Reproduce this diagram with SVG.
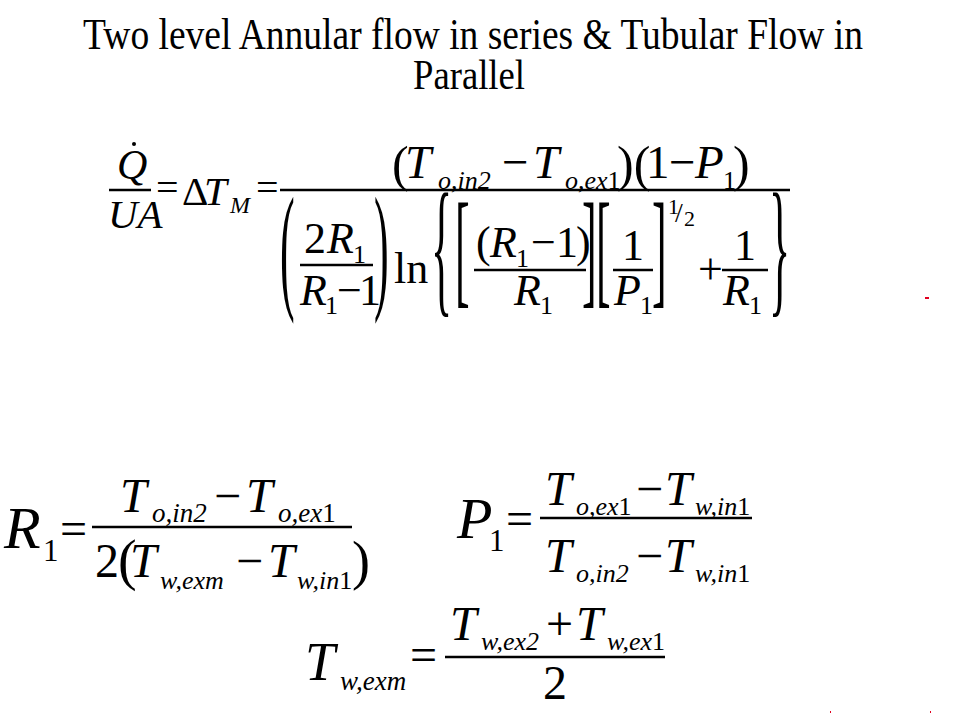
<svg xmlns="http://www.w3.org/2000/svg" width="960" height="720" viewBox="0 0 960 720" font-family="Liberation Serif, Times New Roman, serif">
<style>
text{font-family:'Liberation Serif','Times New Roman',serif;fill:#000}
.i{font-style:italic}
.m{font-size:44px}
.n{font-size:47px}
.s{font-size:26px}
.L{font-size:48px}
.ls{font-size:27px}
.bar{stroke:#000;stroke-width:2.5}
</style>
<rect width="960" height="720" fill="#fff"/>
<g id="title">
<text x="0" y="0" font-size="44" transform="matrix(0.835 0 0 1 83 49)" textLength="934" lengthAdjust="spacingAndGlyphs">Two level Annular flow in series  &amp; Tubular Flow in</text>
<text x="413" y="89" font-size="42" textLength="112" lengthAdjust="spacingAndGlyphs">Parallel</text>
</g>
<g id="eq-main">
<circle cx="134" cy="144" r="2"/>
<text class="i" x="117" y="179" font-size="42">Q</text>
<line class="bar" x1="109" y1="190" x2="151" y2="190"/>
<text class="i" x="108" y="228" font-size="41">UA</text>
<text x="156" y="201" font-size="40">=</text>
<text x="182" y="205" font-size="41">Δ</text>
<text class="i" x="204" y="205" font-size="41">T</text>
<text class="i" x="230" y="213" font-size="24">M</text>
<text x="256" y="201" font-size="40">=</text>
<line class="bar" x1="280" y1="190" x2="790" y2="190"/>
<text x="392" y="181" font-size="50">(</text>
<text class="i n" x="405" y="178">T</text>
<text class="i s" x="438" y="189">o,in2</text>
<text class="n" x="502" y="178">−</text>
<text class="i n" x="533" y="178">T</text>
<text class="i s" x="565" y="189">o,ex<tspan font-style="normal">1</tspan></text>
<text x="617" y="181" font-size="50">)(</text>
<text class="n" x="646" y="178">1</text>
<text class="n" x="669" y="178">−</text>
<text class="i n" x="695" y="178">P</text>
<text class="s" x="723" y="189">1</text>
<text x="733" y="181" font-size="50">)</text>
<text x="0" y="0" font-size="44" transform="translate(280,294) scale(1,3.2)">(</text>
<text class="m" x="304" y="253">2</text>
<text class="i m" x="327" y="253">R</text>
<text class="s" x="353" y="263">1</text>
<line class="bar" x1="300" y1="265" x2="373" y2="265"/>
<text class="i m" x="300" y="305">R</text>
<text class="s" x="325" y="314">1</text>
<text class="m" x="337" y="305">−</text>
<text class="m" x="359" y="305">1</text>
<text x="0" y="0" font-size="44" transform="translate(374,294) scale(1,3.2)">)</text>
<text class="m" x="394" y="283">ln</text>
<text x="0" y="0" font-size="44" transform="translate(431,297) scale(1,3.4)">{</text>
<text x="0" y="0" font-size="44" transform="translate(455,291) scale(1,2.9)">[</text>
<text class="m" x="476" y="257">(</text>
<text class="i m" x="490" y="257">R</text>
<text class="s" x="516" y="267">1</text>
<text class="m" x="531" y="257">−</text>
<text class="m" x="556" y="257">1</text>
<text class="m" x="576" y="257">)</text>
<line class="bar" x1="474" y1="270" x2="586" y2="270"/>
<text class="i m" x="514" y="305">R</text>
<text class="s" x="540" y="314">1</text>
<text x="0" y="0" font-size="44" transform="translate(582,291) scale(1,2.9)">]</text>
<text x="0" y="0" font-size="44" transform="translate(596,291) scale(1,2.9)">[</text>
<text class="m" x="622" y="260">1</text>
<line class="bar" x1="613" y1="270" x2="653" y2="270"/>
<text class="i m" x="614" y="305">P</text>
<text class="s" x="640" y="314">1</text>
<text x="0" y="0" font-size="44" transform="translate(652,291) scale(1,2.9)">]</text>
<text x="668" y="214" font-size="22">1</text>
<text x="675" y="222" font-size="28">/</text>
<text x="684" y="226" font-size="22">2</text>
<text class="m" x="698" y="284">+</text>
<text class="m" x="734" y="260">1</text>
<line class="bar" x1="722" y1="270" x2="768" y2="270"/>
<text class="i m" x="723" y="305">R</text>
<text class="s" x="749" y="314">1</text>
<text x="0" y="0" font-size="44" transform="translate(769,297) scale(1,3.4)">}</text>
</g>
<g id="eq-R1">
<text class="i" x="4" y="548" font-size="60">R</text>
<text x="43" y="561" font-size="31">1</text>
<text class="L" x="60" y="545">=</text>
<line class="bar" x1="92" y1="527" x2="352" y2="527"/>
<text class="i L" x="120" y="512">T</text>
<text class="i ls" x="152" y="522">o,in2</text>
<text class="L" x="214" y="512">−</text>
<text class="i L" x="246" y="512">T</text>
<text class="i ls" x="278" y="522">o,ex<tspan font-style="normal">1</tspan></text>
<text class="L" x="95" y="577">2</text>
<text x="118" y="579" font-size="56">(</text>
<text class="i L" x="130" y="577">T</text>
<text class="i s" x="160" y="589">w,exm</text>
<text class="L" x="236" y="577">−</text>
<text class="i L" x="268" y="577">T</text>
<text class="i s" x="297" y="589">w,in<tspan font-style="normal">1</tspan></text>
<text x="352" y="579" font-size="54">)</text>
</g>
<g id="eq-P1">
<text class="i" x="457" y="538" font-size="58">P</text>
<text x="489" y="551" font-size="31">1</text>
<text class="L" x="506" y="535">=</text>
<line class="bar" x1="540" y1="518" x2="752" y2="518"/>
<text class="i L" x="545" y="505">T</text>
<text class="i s" x="576" y="515">o,ex<tspan font-style="normal">1</tspan></text>
<text class="L" x="636" y="505">−</text>
<text class="i L" x="665" y="505">T</text>
<text class="i s" x="695" y="515">w,in<tspan font-style="normal">1</tspan></text>
<text class="i L" x="545" y="572">T</text>
<text class="i s" x="576" y="582">o,in2</text>
<text class="L" x="636" y="572">−</text>
<text class="i L" x="665" y="572">T</text>
<text class="i s" x="695" y="582">w,in<tspan font-style="normal">1</tspan></text>
</g>
<g id="eq-Twexm">
<text class="i" x="305" y="680" font-size="54">T</text>
<text class="i ls" x="340" y="690">w,exm</text>
<text class="L" x="410" y="671">=</text>
<line class="bar" x1="445" y1="657" x2="665" y2="657"/>
<text class="i L" x="450" y="640">T</text>
<text class="i s" x="481" y="650">w,ex2</text>
<text class="L" x="546" y="640">+</text>
<text class="i L" x="576" y="640">T</text>
<text class="i s" x="607" y="650">w,ex<tspan font-style="normal">1</tspan></text>
<text class="L" x="543" y="699">2</text>
</g>
<g id="marks" fill="#e00020">
<rect x="925" y="297" width="4" height="2"/>
<rect x="830" y="711" width="1" height="2"/>
<rect x="930" y="711" width="1" height="2"/>
</g>
</svg>
